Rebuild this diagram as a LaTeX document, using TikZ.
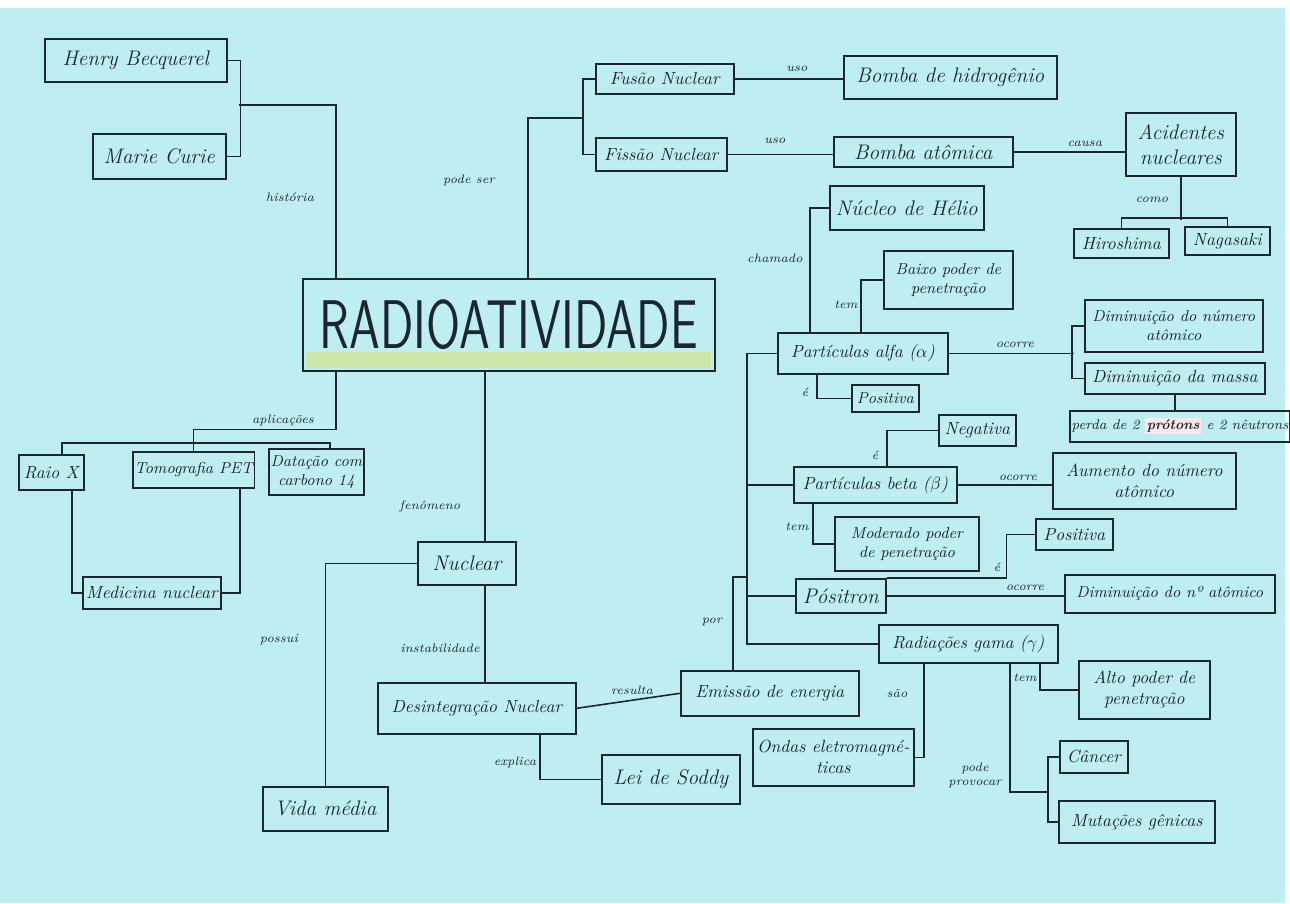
\documentclass[tikz,border=0pt]{standalone}
\usepackage{graphicx}
\definecolor{paper}{RGB}{190,238,242}
\definecolor{ink}{RGB}{28,38,44}
\definecolor{hlgreen}{RGB}{204,230,168}
\definecolor{hlpink}{RGB}{252,232,236}

\begin{document}
\begin{tikzpicture}[x=0.02cm,y=-0.02cm]

    \tikzset{
      box/.style={
        draw=ink,
        line width=0.9pt,
        anchor=north west,
        inner sep=1pt,
        align=center,
        text=ink,
        font=\itshape,
      },
      bx/.style 2 args={minimum width=#1*0.02cm, minimum height=#2*0.02cm},
      lbl/.style={font=\itshape\scriptsize, text=ink, inner sep=0pt},
      link/.style={draw=ink, line width=0.9pt},
    }
    \useasboundingbox (0,0) rectangle (1290,903);
    \fill[paper] (0,0) rectangle (1290,903);
    \fill[white] (0,0) rectangle (1290,8);
    \fill[white] (1285,0) rectangle (1290,903);

    % tema central
    \fill[hlgreen] (306,352) rectangle (711,368);
    \node[box, bx={412}{92}, font=\sffamily\fontsize{28}{28}\selectfont] (radio) at (302,278) {\scalebox{1}[1.4]{RADIOATIVIDADE}};

    % historia
    \node[box, bx={182}{43}, font=\itshape\large] (henry) at (44,38) {Henry Becquerel};
    \node[box, bx={133}{45}, font=\itshape\large] (marie) at (92,133) {Marie Curie};

    % fusao e fissao
    \node[box, bx={138}{30}] (fusao) at (595,63) {Fusão Nuclear};
    \node[box, bx={131}{33}] (fissao) at (595,137) {Fissão Nuclear};
    \node[box, bx={213}{43}, font=\itshape\large] (hidro) at (843,55) {Bomba de hidrogênio};
    \node[box, bx={179}{30}, font=\itshape\large] (atomica) at (833,136) {Bomba atômica};
    \node[box, bx={110}{63}, font=\itshape\large] (acid) at (1125,112) {Acidentes\\nucleares};
    \node[box, bx={95}{29}] (hiro) at (1073,228) {Hiroshima};
    \node[box, bx={85}{28}] (naga) at (1184,226) {Nagasaki};

    % particulas
    \node[box, bx={154}{44}, font=\itshape\large] (nucleo) at (829,185) {Núcleo de Hélio};
    \node[box, bx={129}{58}, font=\itshape\small] (baixo) at (883,250) {Baixo poder de\\penetração};
    \node[box, bx={170}{41}] (alfa) at (777,332) {Partículas alfa ($\alpha$)};
    \node[box, bx={67}{27}, font=\itshape\small] (posalfa) at (851,384) {Positiva};
    \node[box, bx={178}{52}, font=\itshape\small] (dimnum) at (1084,299) {Diminuição do número\\atômico};
    \node[box, bx={180}{31}] (dimmassa) at (1084,362) {Diminuição da massa};
    \node[box, bx={219}{31}, font=\itshape\footnotesize] (perda) at (1069,410) {perda de 2 {\setlength{\fboxsep}{1pt}\colorbox{hlpink}{\bfseries prótons}} e 2 nêutrons};
    \node[box, bx={77}{31}] (negativa) at (938,414) {Negativa};
    \node[box, bx={163}{36}] (beta) at (793,466) {Partículas beta ($\beta$)};
    \node[box, bx={183}{56}] (aumento) at (1052,452) {Aumento do número\\atômico};
    \node[box, bx={144}{54}, font=\itshape\small] (moderado) at (834,516) {Moderado poder\\de penetração};
    \node[box, bx={77}{31}] (pospos) at (1035,518) {Positiva};
    \node[box, bx={90}{34}, font=\itshape\large] (positron) at (795,578) {Pósitron};
    \node[box, bx={210}{38}, font=\itshape\small] (dimna) at (1064,574) {Diminuição do nº atômico};
    \node[box, bx={179}{38}] (gama) at (878,624) {Radiações gama ($\gamma$)};
    \node[box, bx={131}{58}] (alto) at (1078,660) {Alto poder de\\penetração};
    \node[box, bx={68}{32}] (cancer) at (1059,740) {Câncer};
    \node[box, bx={156}{42}] (mutacoes) at (1058,800) {Mutações gênicas};
    \node[box, bx={161}{57}] (ondas) at (752,728) {Ondas eletromagné-\\ticas};

    % fenomeno nuclear
    \node[box, bx={178}{45}] (emissao) at (680,670) {Emissão de energia};
    \node[box, bx={198}{51}] (desint) at (377,682) {Desintegração Nuclear};
    \node[box, bx={138}{49}, font=\itshape\large] (soddy) at (601,754) {Lei de Soddy};
    \node[box, bx={98}{43}, font=\itshape\large] (nuclear) at (417,541) {Nuclear};
    \node[box, bx={125}{44}, font=\itshape\large] (vida) at (262,786) {Vida média};

    % aplicacoes
    \node[box, bx={65}{35}] (raio) at (18,454) {Raio X};
    \node[box, bx={115}{36}, font=\itshape\small] (tomo) at (132,451) {Tomografia PET};
    \node[box, bx={95}{46}, font=\itshape\small] (data) at (268,448) {Datação com\\carbono 14};
    \node[box, bx={138}{32}] (medicina) at (82,576) {Medicina nuclear};

    % ligacoes
    \coordinate (hist) at (239,105);
    \coordinate (podeser) at (583,118);
    \coordinate (spine) at (747,0);
    \coordinate (por) at (747,577);
    \coordinate (provoca) at (1049,792);
    \coordinate (bar) at (200,443);
    \coordinate (apl) at ([xshift=0.68cm]radio.south west);
    \coordinate (fen) at ([xshift=1.36cm]nuclear.north west);
    \coordinate (inst) at ([xshift=1.36cm]nuclear.south west);

    \draw[link] (henry.east) -- ++(13,0) |- (marie.east);
    \draw[link] (hist) -| ([xshift=0.68cm]radio.north west);
    \draw[link] ([xshift=4.52cm]radio.north west) |- (podeser);
    \draw[link] (fusao.west) -- ++(-12,0) |- (fissao.west);
    \draw[link] (fusao.east) -- (fusao.east -| hidro.west);
    \draw[link] (fissao.east) -- (fissao.east -| atomica.west);
    \draw[link] (atomica.east) -- (atomica.east -| acid.west);
    \draw[link] (acid.south) -- ++(0,43);
    \draw[link] (hiro.north) -- ++(0,-10) -| (naga.north);

    \draw[link] ([xshift=0.66cm]alfa.north west) |- (nucleo.west);
    \draw[link] ([xshift=1.68cm]alfa.north west) |- (baixo.west);
    \draw[link] (alfa.east) -- ++(125,0);
    \draw[link] (dimnum.west) -- ++(-12,0) |- (dimmassa.west);
    \draw[link] (dimmassa.south) -- (dimmassa.south |- perda.north);
    \draw[link] ([xshift=0.8cm]alfa.south west) |- (posalfa.west);
    \draw[link] (alfa.west) -- (alfa.west -| spine) -- (gama.west -| spine) -- (gama.west);
    \draw[link] (beta.west) -- (beta.west -| spine);
    \draw[link] (positron.west) -- (positron.west -| spine);
    \draw[link] ([xshift=1.88cm]beta.north west) |- (negativa.west);
    \draw[link] (beta.east) -- (beta.east -| aumento.west);
    \draw[link] ([xshift=0.4cm]beta.south west) |- (moderado.west);
    \draw[link] (positron.north east) -- ++(120,0) |- (pospos.west);
    \draw[link] (positron.east) -- (positron.east -| dimna.west);
    \draw[link] ([xshift=0.92cm]gama.south west) |- (ondas.east);
    \draw[link] ([xshift=3.24cm]gama.south west) |- (alto.west);
    \draw[link] ([xshift=2.64cm]gama.south west) |- (provoca);
    \draw[link] (cancer.west) -- ++(-11,0) |- (mutacoes.west);
    \draw[link] ([xshift=1.06cm]emissao.north west) |- (por);

    \draw[link] (fen) -- (fen |- radio.south);
    \draw[link] (inst) -- (inst |- desint.north);
    \draw[link] (nuclear.west) -| (vida.north);
    \draw[link] (desint.east) -- (emissao.west);
    \draw[link] ([xshift=3.26cm]desint.south west) |- (soddy.west);

    \draw[link] (apl) -- ++(0,58) -| (tomo.north);
    \draw[link] ([xshift=0.88cm]raio.north west) |- (bar) -| ([xshift=1.24cm]data.north west);
    \draw[link] ([xshift=1.08cm]raio.south west) |- (medicina.west);
    \draw[link] ([xshift=-0.3cm]tomo.south east) |- (medicina.east);

    % rotulos
    \node[lbl] (lhist) at (290,197) {história};
    \node[lbl] (lpode) at (469,180) {pode ser};
    \node[lbl] (luso1) at (797,69) {uso};
    \node[lbl] (luso2) at (775,141) {uso};
    \node[lbl] (lcausa) at (1085,144) {causa};
    \node[lbl] (lcomo) at (1152,200) {como};
    \node[lbl] (lchamado) at (775,258) {chamado};
    \node[lbl] (ltem1) at (846,305) {tem};
    \node[lbl] (locorre1) at (1015,345) {ocorre};
    \node[lbl] (le1) at (805,392) {é};
    \node[lbl] (le2) at (875,455) {é};
    \node[lbl] (locorre2) at (1018,478) {ocorre};
    \node[lbl] (ltem2) at (797,527) {tem};
    \node[lbl] (le3) at (997,567) {é};
    \node[lbl] (locorre3) at (1025,588) {ocorre};
    \node[lbl] (lpor) at (712,622) {por};
    \node[lbl] (lsao) at (897,694) {são};
    \node[lbl] (ltem3) at (1025,678) {tem};
    \node[lbl, align=center] (lprov) at (975,775) {pode\\provocar};
    \node[lbl] (lresulta) at (632,690) {resulta};
    \node[lbl] (lexplica) at (515,762) {explica};
    \node[lbl] (lapl) at (283,420) {aplicações};
    \node[lbl] (lfen) at (430,506) {fenômeno};
    \node[lbl] (linst) at (440,648) {instabilidade};
    \node[lbl] (lpossui) at (279,640) {possui};

\end{tikzpicture}
\end{document}
